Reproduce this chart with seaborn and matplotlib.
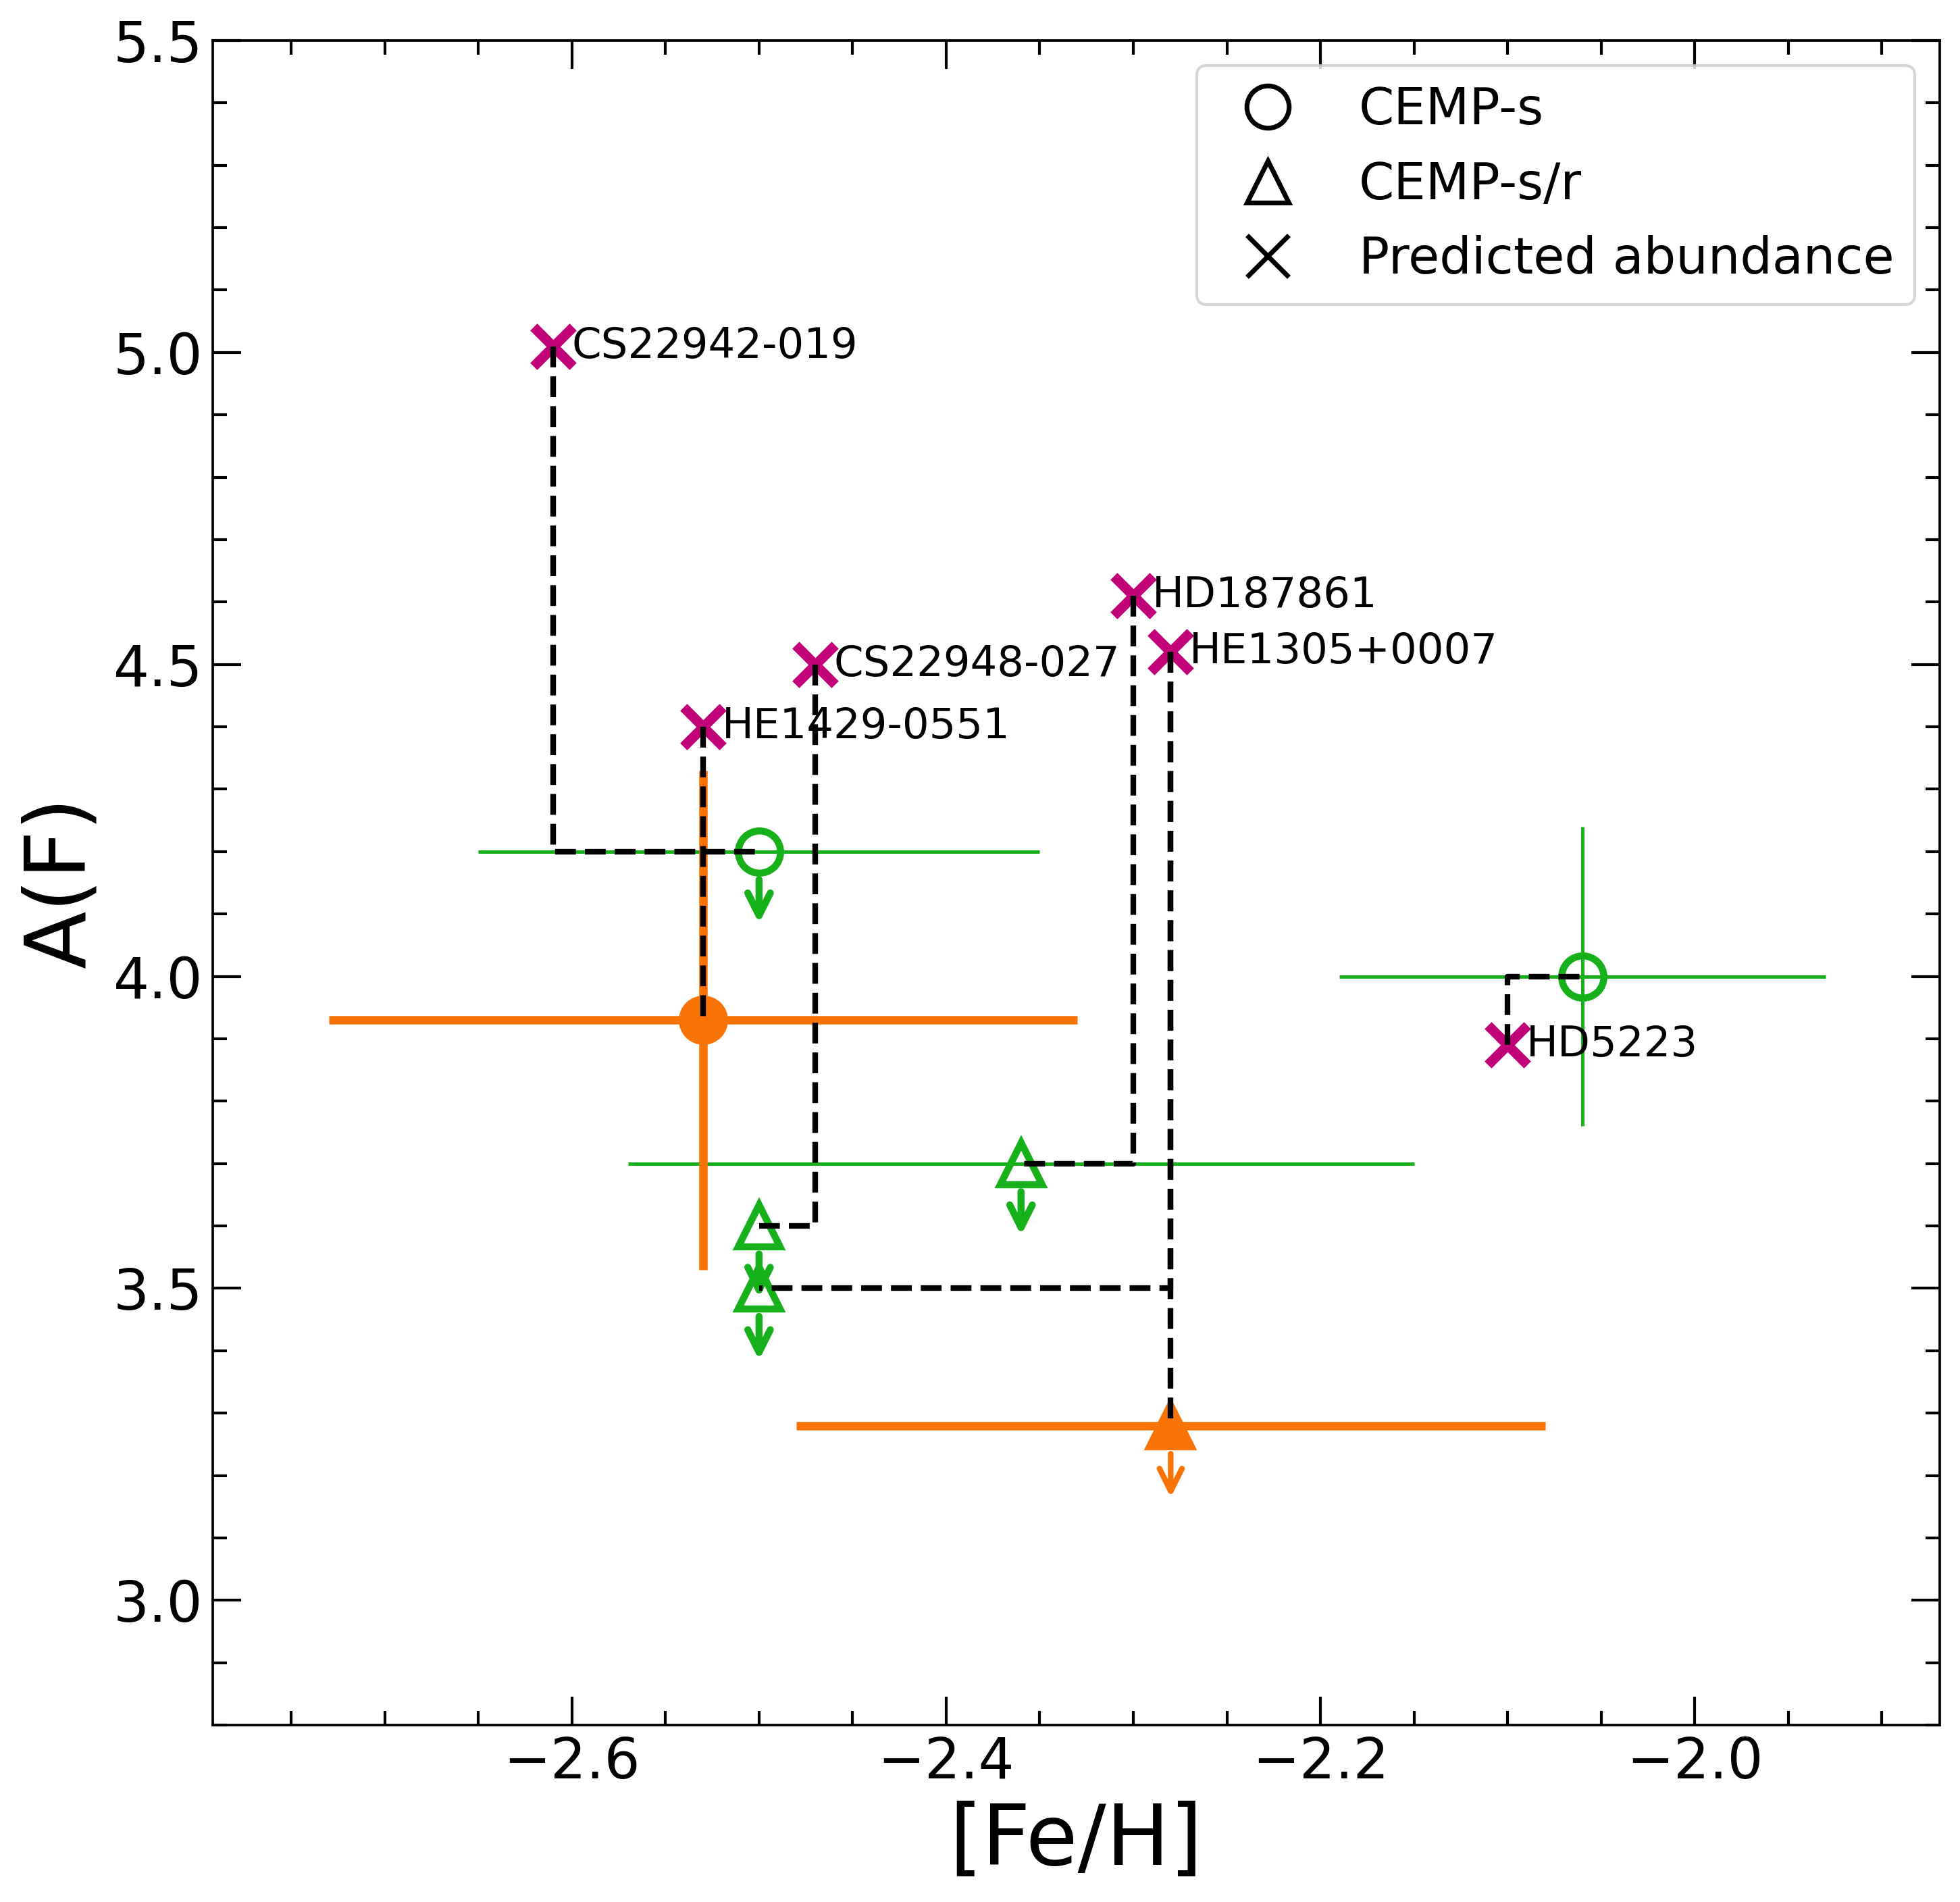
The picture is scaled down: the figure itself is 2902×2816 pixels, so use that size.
import matplotlib
matplotlib.use('Agg')
import matplotlib.pyplot as plt
import seaborn as sns
from matplotlib.lines import Line2D
from matplotlib.ticker import MultipleLocator

sns.set_style('ticks', {'axes.edgecolor': 'black', 'text.color': 'black',
                        'xtick.color': 'black', 'ytick.color': 'black',
                        'axes.labelcolor': 'black'})
plt.rcParams['font.family'] = ['DejaVu Sans']

GREEN = '#15b01a'
ORANGE = '#f97306'
MAGENTA = '#c20078'

# observed stars (green: CEMP-s / CEMP-s/r, orange: other study)
obs_feh = [-2.50, -2.06, -2.36, -2.50, -2.50, -2.53, -2.28]
obs_af = [4.20, 4.00, 3.70, 3.60, 3.50, 3.93, 3.28]
obs_xerr = [0.15, 0.13, 0.21, 0.0, 0.0, 0.20, 0.20]
obs_yerr = [0.0, 0.24, 0.0, 0.0, 0.0, 0.40, 0.0]
obs_uplim = [True, False, True, True, True, False, True]
obs_marker = ['o', 'o', '^', '^', '^', 'o', '^']
obs_color = [GREEN, GREEN, GREEN, GREEN, GREEN, ORANGE, ORANGE]

# predicted abundances
pred_names = ['CS22942-019', 'HE1429-0551', 'CS22948-027', 'HD187861',
              'HE1305+0007', 'HD5223']
pred_feh = [-2.61, -2.53, -2.47, -2.30, -2.28, -2.10]
pred_af = [5.01, 4.40, 4.50, 4.61, 4.52, 3.89]

# (predicted index, observed index) pairs joined by dashed lines
links = [(0, 0), (1, 5), (2, 3), (3, 2), (4, 4), (4, 6), (5, 1)]

fig, ax = plt.subplots(figsize=(2902 / 300, 2816 / 300), dpi=300)
fig.subplots_adjust(left=0.1085, right=0.9897, bottom=0.093, top=0.9787)

for i in range(len(obs_feh)):
    c = obs_color[i]
    filled = c == ORANGE
    ax.errorbar(obs_feh[i], obs_af[i], xerr=obs_xerr[i], yerr=obs_yerr[i],
                fmt=obs_marker[i], ms=15, mec=c, mfc=c if filled else 'none',
                mew=2.5, ecolor=c, elinewidth=3 if filled else 1.2, capsize=0,
                zorder=3)
    if obs_uplim[i]:
        ax.annotate('', xy=(obs_feh[i], obs_af[i] - 0.115),
                    xytext=(obs_feh[i], obs_af[i] - 0.045),
                    arrowprops=dict(arrowstyle='->', color=c,
                                    lw=2.0 if filled else 2.5,
                                    shrinkA=0, shrinkB=0, mutation_scale=20),
                    zorder=3)

sns.scatterplot(x=pred_feh, y=pred_af, marker='x', s=14 ** 2, color=MAGENTA,
                linewidth=3.5, ax=ax, zorder=4)

for p, o in links:
    ax.plot([pred_feh[p], pred_feh[p], obs_feh[o]],
            [pred_af[p], obs_af[o], obs_af[o]],
            ls='--', color='black', lw=2, zorder=5)

for name, x, y in zip(pred_names, pred_feh, pred_af):
    ax.text(x + 0.01, y, name, fontsize=15, va='center', zorder=6)

ax.set_xlim(-2.792, -1.869)
ax.set_ylim(2.8, 5.5)
ax.xaxis.set_major_locator(MultipleLocator(0.2))
ax.xaxis.set_minor_locator(MultipleLocator(0.05))
ax.yaxis.set_major_locator(MultipleLocator(0.5))
ax.yaxis.set_minor_locator(MultipleLocator(0.1))
ax.tick_params(which='both', direction='in', top=True, right=True,
               labelsize=20)
ax.tick_params(which='major', length=10, width=1)
ax.tick_params(which='minor', length=5, width=1)
for s in ax.spines.values():
    s.set_linewidth(0.9)

ax.set_xlabel('[Fe/H]', fontsize=30)
ax.set_ylabel('A(F)', fontsize=30)

handles = [
    Line2D([], [], ls='none', marker='o', ms=15, mfc='none', mec='black', mew=1.7),
    Line2D([], [], ls='none', marker='^', ms=15, mfc='none', mec='black', mew=1.7),
    Line2D([], [], ls='none', marker='x', ms=15, color='black', mew=1.7),
]
ax.legend(handles, ['CEMP-s', 'CEMP-s/r', 'Predicted abundance'],
          loc='upper right', fontsize=18, frameon=True)

fig.savefig('out.png', dpi=300)
